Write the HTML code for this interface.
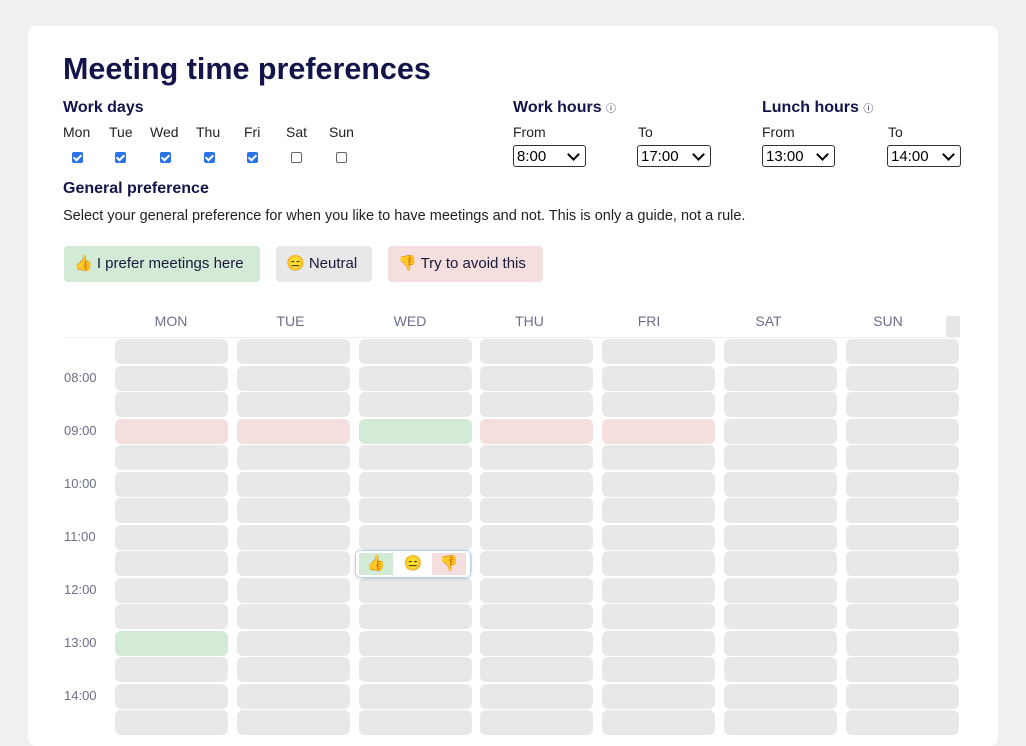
<!DOCTYPE html>
<html><head><meta charset="utf-8">
<style>
body{margin:0;width:1026px;height:716px;overflow:hidden;background:#eff0f2;font-family:"Liberation Sans",sans-serif;color:#14163a;}
.card{position:absolute;left:28px;top:26px;width:970px;height:720px;background:#fff;border-radius:8px;}
.abs{position:absolute;}
h1{position:absolute;left:63px;top:52px;margin:0;font-size:30.5px;font-weight:bold;color:#13154a;letter-spacing:0px}
.h2{font-size:16px;font-weight:bold;color:#13154a}
.sm{font-size:14px;color:#222}
.cb{position:absolute;width:11px;height:11px;border-radius:2px;}
.cb.on{background:#2a73e8;}
.cb.on::after{content:"";position:absolute;left:3px;top:1px;width:3px;height:6px;border:solid #fff;border-width:0 2px 2px 0;transform:rotate(45deg)}
.cb.off{border:1px solid #666;width:9px;height:9px;background:#fff}
.sel{position:absolute;width:72px;height:22px;border:1px solid #333;border-radius:3px;font-size:15px;line-height:22px;padding-left:3px;box-sizing:border-box;color:#000}
.sel::after{content:"";position:absolute;right:7px;top:4px;width:7px;height:7px;border:solid #000;border-width:0 2.5px 2.5px 0;transform:rotate(45deg)}
.btn{position:absolute;top:246px;height:36px;border-radius:4px;font-size:15px;line-height:36px;color:#1a1a3a}
.day{position:absolute;top:313px;font-size:14px;color:#6b6f8a;width:113px;text-align:center}
.cell{position:absolute;border-radius:6px;}
.tl{position:absolute;left:64px;font-size:13px;color:#6b6f8a}
</style></head><body>
<div class="card"></div>
<h1>Meeting time preferences</h1>
<div class="abs h2" style="left:63px;top:99px">Work days</div>
<div class="abs sm" style="left:63px;top:124px">
<span style="position:absolute;left:0">Mon</span><span style="position:absolute;left:46px">Tue</span><span style="position:absolute;left:87px">Wed</span><span style="position:absolute;left:133px">Thu</span><span style="position:absolute;left:181px">Fri</span><span style="position:absolute;left:223px">Sat</span><span style="position:absolute;left:266px">Sun</span></div>
<div class="cb on" style="left:72px;top:152px"></div>
<div class="cb on" style="left:115px;top:152px"></div>
<div class="cb on" style="left:160px;top:152px"></div>
<div class="cb on" style="left:204px;top:152px"></div>
<div class="cb on" style="left:247px;top:152px"></div>
<div class="cb off" style="left:291px;top:152px"></div>
<div class="cb off" style="left:336px;top:152px"></div>
<div class="abs h2" style="left:513px;top:99px">Work hours <span style="font-size:10px;font-weight:normal">ⓘ</span></div>
<div class="abs h2" style="left:762px;top:99px">Lunch hours <span style="font-size:10px;font-weight:normal">ⓘ</span></div>
<div class="abs sm" style="left:513px;top:124px">From</div>
<div class="abs sm" style="left:638px;top:124px">To</div>
<div class="abs sm" style="left:762px;top:124px">From</div>
<div class="abs sm" style="left:888px;top:124px">To</div>
<div class="sel" style="left:513px;top:145px;width:73px">8:00</div>
<div class="sel" style="left:637px;top:145px;width:74px">17:00</div>
<div class="sel" style="left:762px;top:145px;width:73px">13:00</div>
<div class="sel" style="left:887px;top:145px;width:74px">14:00</div>
<div class="abs h2" style="left:63px;top:180px">General preference</div>
<div class="abs sm" style="left:63px;top:208px;font-size:14.5px">Select your general preference for when you like to have meetings and not. This is only a guide, not a rule.</div>
<div class="btn" style="left:64px;width:196px;background:#d3ead6;padding-left:10px;box-sizing:border-box">👍 I prefer meetings here</div>
<div class="btn" style="left:276px;width:96px;background:#e8e8e8;padding-left:10px;box-sizing:border-box">😑 Neutral</div>
<div class="btn" style="left:388px;width:155px;background:#f4dede;padding-left:10px;box-sizing:border-box">👎 Try to avoid this</div>
<div class="abs" style="left:64px;top:337px;width:896px;height:1px;background:#eee"></div>
<div class="abs" style="left:946px;top:316px;width:14px;height:21px;background:#e6e6e6;border-radius:2px"></div>
<div id="grid"></div>
<div class="abs" style="left:355px;top:550px;width:114px;height:26px;background:#fff;border:1px solid #b9d3e6;border-radius:5px;box-shadow:0 1px 3px rgba(0,0,0,.15);font-size:15px">
<div style="position:absolute;left:3px;top:2px;width:34px;height:22px;background:#d3ead6;text-align:center;line-height:22px">👍</div>
<div style="position:absolute;left:40px;top:2px;width:34px;height:22px;text-align:center;line-height:22px">😑</div>
<div style="position:absolute;left:76px;top:2px;width:34px;height:22px;background:#f4dede;text-align:center;line-height:22px">👎</div>
</div>
<script>
const days=["MON","TUE","WED","THU","FRI","SAT","SUN"];
const hourLabels=["08:00","09:00","10:00","11:00","12:00","13:00","14:00"];
// preference per row (15 half-hour rows) per day: 1 prefer, -1 avoid, 0 neutral
const mon=[0,0,0,-1,0,0,0,0,0,0,0,1,0,0,0];
const tue=[0,0,0,-1,0,0,0,0,0,0,0,0,0,0,0];
const wed=[0,0,0,1,0,0,0,0,0,0,0,0,0,0,0];
const thu=[0,0,0,-1,0,0,0,0,0,0,0,0,0,0,0];
const fri=[0,0,0,-1,0,0,0,0,0,0,0,0,0,0,0];
const sat=[0,0,0,0,0,0,0,0,0,0,0,0,0,0,0];
const sun=[0,0,0,0,0,0,0,0,0,0,0,0,0,0,0];
const prefs=[mon,tue,wed,thu,fri,sat,sun];
const g=document.getElementById('grid');
const colX=i=>115+i*121.8, rowY=r=>339+r*26.5, headX=i=>171+i*119.5-56.5;
const colors={"1":"#d3ead6","-1":"#f4dede","0":"#e8e8e8"};
days.forEach((d,i)=>{
 const h=document.createElement('div');h.className='day';h.textContent=d;
 h.style.left=headX(i)+'px';
 
 
 g.appendChild(h);
 prefs[i].forEach((v,r)=>{
  const c=document.createElement('div');c.className='cell';
  c.style.left=colX(i)+'px';c.style.top=rowY(r)+'px';c.style.width='113px';c.style.height='25px';
  c.style.background=colors[String(v)];
  
  
  g.appendChild(c);
 });
});
hourLabels.forEach((t,k)=>{
 const l=document.createElement('div');l.className='tl';l.textContent=t;
 l.style.top=(rowY(1+2*k)+4)+'px';
 
 
 g.appendChild(l);
});
</script>
</body></html>
